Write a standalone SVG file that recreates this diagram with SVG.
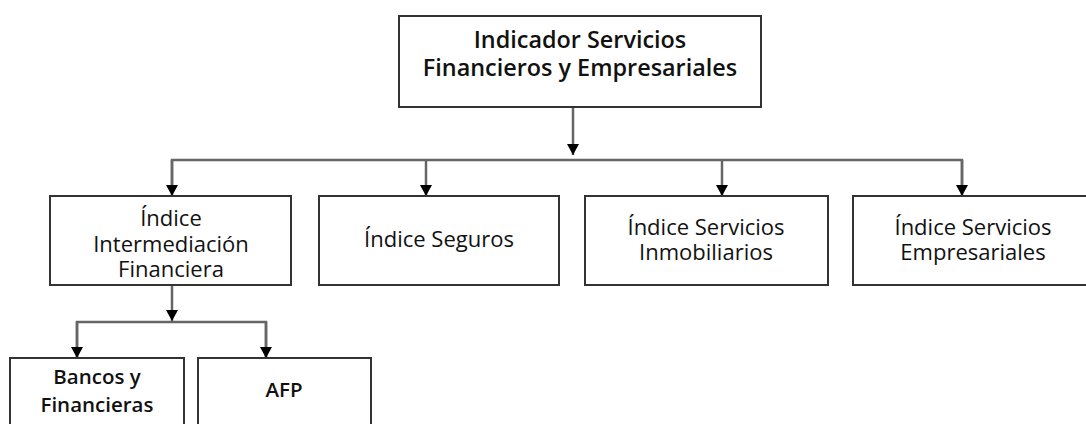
<svg xmlns="http://www.w3.org/2000/svg" width="1086" height="424" viewBox="0 0 1086 424">
<style>
.box{fill:#fff;stroke:#333;stroke-width:2}
.t{font-family:"Open Sans","Noto Sans",sans-serif;font-size:22px;fill:#111;text-anchor:middle}
.tt{font-family:"Open Sans","Noto Sans",sans-serif;font-size:23.4px;font-weight:600;fill:#111;text-anchor:middle}
.tb{font-family:"Open Sans","Noto Sans",sans-serif;font-size:20.5px;font-weight:600;fill:#111;text-anchor:middle}
.c{fill:none;stroke:#666;stroke-width:2.5}
</style>
<defs>
<marker id="ah" markerWidth="12" markerHeight="11" refX="6" refY="11" orient="0" markerUnits="userSpaceOnUse" viewBox="0 0 12 11">
<path d="M0,0 L12,0 L6,11 Z" fill="#000"/>
</marker>
</defs>
<rect width="1086" height="424" fill="#fff"/>
<g id="connectors">
<path class="c" d="M573,107 V155" marker-end="url(#ah)"/>
<path class="c" d="M172,185 V160 H962 V185"/>
<path class="c" d="M172,160 V196" marker-end="url(#ah)"/>
<path class="c" d="M426,160 V196" marker-end="url(#ah)"/>
<path class="c" d="M722,160 V196" marker-end="url(#ah)"/>
<path class="c" d="M962,160 V196" marker-end="url(#ah)"/>
<path class="c" d="M172,285 V321" marker-end="url(#ah)"/>
<path class="c" d="M77,358 V322 H266 V358"/>
<path class="c" d="M77,322 V358" marker-end="url(#ah)"/>
<path class="c" d="M266,322 V358" marker-end="url(#ah)"/>
</g>
<g id="root">
<rect class="box" x="399" y="16" width="362" height="91"/>
<text class="tt" x="580" y="48">Indicador Servicios</text>
<text class="tt" x="580" y="76">Financieros y Empresariales</text>
</g>
<g id="n1">
<rect class="box" x="50" y="196" width="241" height="89"/>
<text class="t" x="171" y="226">Índice</text>
<text class="t" x="171" y="252">Intermediación</text>
<text class="t" x="171" y="277">Financiera</text>
</g>
<g id="n2">
<rect class="box" x="319" y="196" width="240" height="89"/>
<text class="t" x="439" y="247">Índice Seguros</text>
</g>
<g id="n3">
<rect class="box" x="585" y="196" width="243" height="89"/>
<text class="t" x="706" y="235">Índice Servicios</text>
<text class="t" x="706" y="260">Inmobiliarios</text>
</g>
<g id="n4">
<rect class="box" x="853" y="196" width="250" height="89"/>
<text class="t" x="973" y="235">Índice Servicios</text>
<text class="t" x="973" y="260">Empresariales</text>
</g>
<g id="n5">
<rect class="box" x="10" y="358" width="174" height="80"/>
<text class="tb" x="97" y="384">Bancos y</text>
<text class="tb" x="97" y="412">Financieras</text>
</g>
<g id="n6">
<rect class="box" x="198" y="358" width="173" height="80"/>
<text class="tb" x="284" y="397">AFP</text>
</g>
</svg>
